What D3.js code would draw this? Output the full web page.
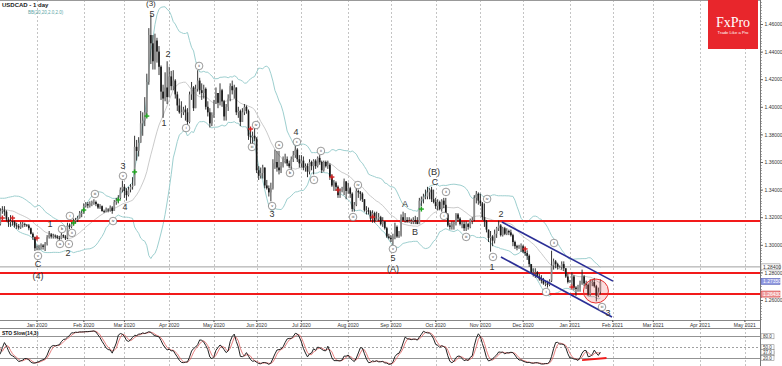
<!DOCTYPE html>
<html><head><meta charset="utf-8">
<script src="https://cdn.jsdelivr.net/npm/d3@7"></script>
<style>html,body{margin:0;padding:0;background:#fff;}svg{display:block;font-family:"Liberation Sans",Arial,sans-serif;}</style>
</head><body><svg id="c" width="782" height="366"></svg>
<script>
// ---------------- DATA ----------------
const firstDay = "2019-11-07";      // first daily bar (weekdays)
const anchorDay = "2020-01-02";     // bar index 0 used by annotations
// closes / highs / lows, one row per month (Nov-19 warmup, Dec-19 ... Jan-21)
const closes = [
 1.3170,1.3230,1.3220,1.3235,1.3250,1.3245,1.3225,1.3205,1.3250,1.3290,1.3275,1.3280,1.3275,1.3290,1.3285,1.3290,1.3285,1.3300,1.3320,1.3190,
 1.3150,1.3245,1.3250,1.3240,1.3185,1.3165,1.3170,1.3165,1.3140,1.3135,1.3125,1.3150,1.3150,1.3145,1.3140,1.3120,1.3080,1.3055,1.2975,1.2980,
 1.2990,1.2995,1.2985,1.3005,1.3055,1.3075,1.3060,1.3065,1.3060,1.3050,1.3045,1.3070,1.3060,1.3050,1.3140,1.3130,1.3150,1.3170,1.3180,1.3195,1.3230,1.3230,
 1.3280,1.3295,1.3285,1.3300,1.3310,1.3310,1.3295,1.3270,1.3280,1.3245,1.3240,1.3255,1.3250,1.3270,1.3245,1.3310,1.3320,1.3340,1.3400,1.3420,
 1.3390,1.3360,1.3400,1.3420,1.3430,1.3710,1.3680,1.3740,1.3880,1.3900,1.3960,1.4180,1.4520,1.4460,1.4330,1.4480,1.4400,1.4290,1.4110,1.4060,1.4140,1.4070,
 1.4220,1.4150,1.4190,1.4090,1.4010,1.3960,1.3960,1.3980,1.3960,1.3890,1.4090,1.4140,1.3990,1.4130,1.4190,1.4120,1.4100,1.4130,1.4000,1.3960,1.3880,1.3940,
 1.4030,1.4100,1.4030,1.4120,1.4040,1.3930,1.4000,1.4060,1.4150,1.4120,1.4140,1.3960,1.3970,1.3890,1.3960,1.4000,1.3970,1.3790,1.3780,1.3790,1.3770,
 1.3540,1.3500,1.3520,1.3560,1.3430,1.3410,1.3380,1.3410,1.3590,1.3600,1.3560,1.3540,1.3570,1.3620,1.3620,1.3590,1.3570,1.3620,1.3650,1.3690,1.3620,1.3590,
 1.3610,1.3560,1.3570,1.3530,1.3600,1.3570,1.3610,1.3570,1.3630,1.3600,1.3540,1.3600,1.3570,1.3580,1.3490,1.3430,1.3450,1.3420,1.3360,1.3400,1.3400,1.3460,1.3390,
 1.3410,1.3370,1.3260,1.3290,1.3390,1.3380,1.3370,1.3330,1.3250,1.3250,1.3240,1.3190,1.3230,1.3170,1.3190,1.3200,1.3150,1.3170,1.3120,1.3060,1.3050,
 1.3040,1.3060,1.3130,1.3060,1.3070,1.3200,1.3180,1.3180,1.3170,1.3170,1.3170,1.3180,1.3170,1.3150,1.3320,1.3330,1.3350,1.3350,1.3380,1.3400,1.3330,1.3310,
 1.3280,1.3310,1.3260,1.3320,1.3290,1.3220,1.3140,1.3130,1.3150,1.3160,1.3220,1.3190,1.3150,1.3150,1.3120,1.3150,1.3130,1.3180,1.3180,1.3340,1.3370,1.3320,
 1.3300,1.3200,1.3170,1.3110,1.3050,1.3060,1.3030,1.3080,1.3120,1.3140,1.3070,1.3120,1.3080,1.3100,1.3090,1.3070,1.3020,1.2990,1.2980,1.2990,1.2990,
 1.2950,1.2940,1.2920,1.2860,1.2800,1.2800,1.2800,1.2770,1.2750,1.2740,1.2720,1.2720,1.2710,1.2740,1.2850,1.2880,1.2860,1.2840,1.2840,1.2860,1.2830,1.2770,1.2730,
 1.2735,1.2770,1.2690,1.2680,1.2690,1.2720,1.2770,1.2720,1.2710,1.2640,1.2730,1.2730,1.2700,1.2630,1.2660,1.2735
];
const highs = [
 1.3195,1.3245,1.3245,1.3255,1.3270,1.3265,1.3250,1.3240,1.3260,1.3310,1.3300,1.3295,1.3300,1.3310,1.3300,1.3300,1.3305,1.3320,1.3325,1.3325,
 1.3200,1.3265,1.3280,1.3280,1.3250,1.3200,1.3215,1.3190,1.3175,1.3160,1.3150,1.3165,1.3165,1.3160,1.3150,1.3150,1.3125,1.3090,1.3060,1.2995,
 1.3000,1.3010,1.3005,1.3020,1.3070,1.3100,1.3085,1.3080,1.3075,1.3070,1.3065,1.3085,1.3075,1.3070,1.3160,1.3155,1.3165,1.3190,1.3195,1.3210,1.3245,1.3250,
 1.3300,1.3310,1.3310,1.3315,1.3320,1.3330,1.3320,1.3300,1.3295,1.3285,1.3255,1.3270,1.3265,1.3285,1.3280,1.3325,1.3340,1.3360,1.3415,1.3465,
 1.3440,1.3410,1.3420,1.3440,1.3490,1.3790,1.3760,1.3780,1.3970,1.3960,1.4070,1.4240,1.4570,1.4667,1.4520,1.4530,1.4500,1.4440,1.4300,1.4160,1.4250,1.4330,
 1.4290,1.4260,1.4265,1.4200,1.4110,1.4060,1.4040,1.4000,1.4010,1.3990,1.4110,1.4180,1.4150,1.4160,1.4265,1.4210,1.4170,1.4160,1.4140,1.4040,1.3990,1.3960,
 1.4050,1.4140,1.4100,1.4170,1.4130,1.4050,1.4020,1.4090,1.4170,1.4190,1.4160,1.4140,1.4000,1.3980,1.3990,1.4020,1.4010,1.3980,1.3850,1.3820,1.3850,
 1.3780,1.3570,1.3560,1.3580,1.3560,1.3470,1.3430,1.3450,1.3620,1.3690,1.3680,1.3680,1.3600,1.3640,1.3660,1.3640,1.3610,1.3640,1.3680,1.3715,1.3700,1.3650,
 1.3650,1.3640,1.3590,1.3590,1.3620,1.3610,1.3620,1.3620,1.3640,1.3650,1.3610,1.3610,1.3610,1.3610,1.3590,1.3510,1.3470,1.3460,1.3430,1.3410,1.3420,1.3480,1.3460,
 1.3450,1.3420,1.3380,1.3310,1.3410,1.3400,1.3390,1.3380,1.3330,1.3280,1.3270,1.3250,1.3250,1.3240,1.3240,1.3230,1.3210,1.3200,1.3170,1.3130,1.3080,
 1.3070,1.3080,1.3160,1.3140,1.3100,1.3220,1.3240,1.3230,1.3200,1.3200,1.3190,1.3200,1.3210,1.3200,1.3340,1.3350,1.3370,1.3400,1.3420,1.3410,1.3420,1.3400,
 1.3340,1.3330,1.3320,1.3330,1.3340,1.3340,1.3230,1.3160,1.3170,1.3170,1.3230,1.3230,1.3200,1.3170,1.3170,1.3170,1.3160,1.3190,1.3200,1.3360,1.3390,1.3380,
 1.3370,1.3310,1.3300,1.3180,1.3110,1.3100,1.3070,1.3110,1.3130,1.3175,1.3150,1.3130,1.3130,1.3120,1.3110,1.3110,1.3080,1.3030,1.3000,1.3000,1.3010,
 1.3000,1.2980,1.2960,1.2930,1.2860,1.2830,1.2830,1.2810,1.2790,1.2780,1.2760,1.2740,1.2740,1.2750,1.2957,1.2900,1.2890,1.2870,1.2850,1.2880,1.2880,1.2830,1.2790,
 1.2745,1.2800,1.2780,1.2700,1.2710,1.2740,1.2820,1.2780,1.2740,1.2720,1.2750,1.2750,1.2760,1.2710,1.2690,1.2750
];
const lows = [
 1.3140,1.3160,1.3200,1.3200,1.3220,1.3225,1.3205,1.3190,1.3195,1.3245,1.3255,1.3260,1.3260,1.3265,1.3270,1.3275,1.3275,1.3280,1.3285,1.3180,
 1.3110,1.3140,1.3225,1.3210,1.3170,1.3130,1.3130,1.3140,1.3125,1.3115,1.3110,1.3115,1.3125,1.3130,1.3130,1.3105,1.3075,1.3035,1.2955,1.2960,
 1.2960,1.2965,1.2965,1.2955,1.2995,1.3045,1.3045,1.3045,1.3045,1.3040,1.3030,1.3040,1.3050,1.3035,1.3040,1.3115,1.3120,1.3140,1.3155,1.3165,1.3190,1.3200,
 1.3225,1.3270,1.3265,1.3270,1.3280,1.3290,1.3280,1.3260,1.3260,1.3240,1.3230,1.3235,1.3235,1.3240,1.3225,1.3250,1.3290,1.3300,1.3330,1.3380,
 1.3340,1.3320,1.3350,1.3380,1.3400,1.3430,1.3610,1.3640,1.3740,1.3790,1.3860,1.3940,1.4160,1.4310,1.4270,1.4270,1.4320,1.4230,1.4050,1.3920,1.4040,1.4020,
 1.4070,1.4120,1.4120,1.4060,1.3970,1.3950,1.3920,1.3940,1.3900,1.3850,1.3880,1.4050,1.3970,1.3990,1.4110,1.4090,1.4050,1.4060,1.3980,1.3930,1.3850,1.3860,
 1.3920,1.4020,1.3990,1.4010,1.4000,1.3900,1.3900,1.3970,1.4040,1.4090,1.4060,1.3940,1.3920,1.3860,1.3890,1.3940,1.3950,1.3760,1.3720,1.3730,1.3750,
 1.3520,1.3470,1.3480,1.3480,1.3410,1.3400,1.3350,1.3315,1.3400,1.3550,1.3530,1.3510,1.3520,1.3560,1.3590,1.3570,1.3555,1.3530,1.3600,1.3630,1.3600,1.3560,
 1.3560,1.3540,1.3530,1.3490,1.3510,1.3540,1.3510,1.3550,1.3560,1.3580,1.3520,1.3530,1.3560,1.3550,1.3470,1.3420,1.3390,1.3390,1.3340,1.3340,1.3380,1.3360,1.3330,
 1.3370,1.3340,1.3240,1.3240,1.3280,1.3340,1.3320,1.3310,1.3240,1.3220,1.3220,1.3170,1.3160,1.3160,1.3170,1.3170,1.3140,1.3130,1.3110,1.3050,1.3040,
 1.3020,1.3000,1.3040,1.3050,1.3050,1.3060,1.3170,1.3160,1.3160,1.3160,1.3150,1.3150,1.3150,1.3150,1.3150,1.3280,1.3300,1.3330,1.3330,1.3330,1.3310,1.3300,
 1.3260,1.3250,1.3250,1.3240,1.3265,1.3210,1.3130,1.3110,1.3110,1.3110,1.3140,1.3170,1.3140,1.3120,1.3100,1.3100,1.3110,1.3120,1.3150,1.3170,1.3300,1.3290,
 1.3280,1.3180,1.3130,1.3090,1.3020,1.2950,1.2990,1.3010,1.3050,1.3100,1.3060,1.3060,1.3070,1.3070,1.3070,1.3060,1.2990,1.2970,1.2960,1.2970,1.2950,
 1.2940,1.2920,1.2890,1.2840,1.2790,1.2770,1.2760,1.2760,1.2740,1.2720,1.2710,1.2700,1.2690,1.2700,1.2730,1.2820,1.2830,1.2820,1.2830,1.2820,1.2810,1.2760,1.2720,
 1.2725,1.2710,1.2670,1.2630,1.2660,1.2660,1.2710,1.2700,1.2680,1.2630,1.2630,1.2700,1.2690,1.2590,1.2620,1.2640
];
const monthLabels = ["Jan 2020","Feb 2020","Mar 2020","Apr 2020","May 2020","Jun 2020","Jul 2020","Aug 2020","Sep 2020","Oct 2020","Nov 2020","Dec 2020","Jan 2021","Feb 2021","Mar 2021","Apr 2021","May 2021"];
const priceTicks = [1.26,1.28,1.30,1.32,1.34,1.36,1.38,1.40,1.42,1.44,1.46];
const redLevels = [1.3172, 1.2796, 1.2643];
const grayLevels = [1.2840];
const stoLevels = [80, 50, 20];
// annotations: [bar index from 2020-01-02, price, text]
const waveLabels = [
 [55,1.4749,"(3)"],[55.5,1.4672,"5"],[63.4,1.4383,"2"],[61.5,1.3883,"1"],
 [5.4,1.3151,"1"],[14.3,1.2941,"2"],[-0.5,1.2861,"C"],[-0.5,1.2774,"(4)"],
 [41.3,1.3571,"3"],[42.3,1.3274,"4"],[114.6,1.3223,"3"],[126.4,1.3817,"4"],
 [180,1.3296,"A"],[184.9,1.3093,"B"],[174,1.2904,"5"],[174,1.2825,"(A)"],
 [194.2,1.3528,"(B)"],[194.7,1.3455,"C"],[227.1,1.3223,"2"],[222.7,1.2839,"1"],[279.7,1.2506,"3"]
];
const circledLabels = [
 [-0.5,1.2919,"v"],[10.3,1.3006,"a"],[11.3,1.3114,"b"],[14.7,1.3006,"c"],[15.2,1.3209,"i"],[16.2,1.3086,"ii"],
 [27.5,1.3368,"iii"],[36.4,1.3172,"iv"],[41.3,1.3499,"v"],
 [72.3,1.3846,"i"],[78.7,1.4296,"ii"],[104.7,1.3709,"iii"],[106.7,1.3868,"iv"],[114.6,1.3281,"v"],
 [118,1.3723,"a"],[123.4,1.3520,"b"],[126.8,1.3745,"c"],
 [135.2,1.3470,"i"],[138.6,1.3680,"ii"],[154.4,1.3201,"iii"],[156.8,1.3433,"iv"],[174,1.2970,"v"],
 [199.1,1.3209,"i"],[200.1,1.3383,"ii"],[210,1.3057,"iii"],[220.3,1.3332,"iv"],[223.2,1.2912,"v"],
 [249.3,1.2658,"i"],[253.2,1.3013,"ii"],[276.8,1.2549,"iii"]
];
const greenCrosses = [[17,1.3158],[22,1.3252],[39,1.3325],[47,1.3528],[53,1.3933],[188,1.3259]];
const redCrosses = [[-18,1.3194],[-13,1.3194],[-1,1.3049],[104,1.3839],[144,1.3491],[147,1.3397],[164,1.3201],[239,1.2970],[262,1.2694]];
const channelUpper = [[227.6,1.3165],[282.2,1.2737]];
const channelLower = [[227.1,1.2912],[281.7,1.2477]];
const focusPoint = [273.8, 1.2665];
const stoTrend = [[267,15],[279,20.5]];

// ---------------- SETUP ----------------
const svg = d3.select("#c");
const W = 760, mainBottom = 320;
const parse = d3.timeParse("%Y-%m-%d");
const days = [];
for (let d = parse(firstDay); d <= parse("2021-05-07"); d = d3.timeDay.offset(d, 1)) {
  if (d.getDay() !== 0 && d.getDay() !== 6) days.push(d);
}
const fmtDay = d3.timeFormat("%Y-%m-%d"), fmtMon = d3.timeFormat("%b %Y");
const k0 = days.findIndex(d => fmtDay(d) === anchorDay);
const kMay = days.findIndex(d => fmtMon(d) === "May 2021");
const x = d3.scaleLinear().domain([k0, kMay]).range([39, 744.8]);
const xi = i => x(i + k0);
const y = d3.scaleLinear().domain([1.26, 1.46]).range([300, 24]);
const ys = d3.scaleLinear().domain([0, 100]).range([365.5, 329]);

const bars = closes.map((c, k) => ({k, c, h: highs[k], l: lows[k], o: k > 0 ? closes[k - 1] : c}));

// Bollinger 20,2
const bb = [];
bars.forEach((b, k) => {
  if (k < 19) return;
  const win = closes.slice(k - 19, k + 1);
  const m = d3.mean(win);
  const sd = Math.sqrt(d3.mean(win, v => (v - m) * (v - m)));
  bb.push({k, m, u: m + 2 * sd, d: m - 2 * sd});
});
// Stochastic slow 14,3
const num = [], den = [];
bars.forEach((b, k) => {
  if (k < 13) { num.push(null); den.push(null); return; }
  const ll = d3.min(lows.slice(k - 13, k + 1)), hh = d3.max(highs.slice(k - 13, k + 1));
  num.push(b.c - ll); den.push(hh - ll);
});
const sto = [];
for (let k = 15; k < bars.length; k++) {
  const n = num[k] + num[k - 1] + num[k - 2], dd = den[k] + den[k - 1] + den[k - 2];
  sto.push({k, K: dd > 0 ? 100 * n / dd : 50});
}
sto.forEach((s, j) => { if (j >= 2) s.D = (s.K + sto[j - 1].K + sto[j - 2].K) / 3; });

const defs = svg.append("defs");
defs.append("clipPath").attr("id", "cm").append("rect").attr("x", 0).attr("y", 0).attr("width", W).attr("height", mainBottom);
defs.append("clipPath").attr("id", "cs").append("rect").attr("x", 0).attr("y", 328).attr("width", W).attr("height", 38);

// month grid
const monthK = monthLabels.map(lbl => days.findIndex(d => fmtMon(d) === lbl));
svg.append("g").selectAll("line").data(monthK).join("line")
  .attr("x1", d => Math.round(x(d)) + 0.5).attr("x2", d => Math.round(x(d)) + 0.5)
  .attr("y1", 0).attr("y2", 366).attr("stroke", "#c4c4c4").attr("stroke-dasharray", "2,2");

const gm = svg.append("g").attr("clip-path", "url(#cm)");
// Bollinger lines
const lineB = key => d3.line().x(d => x(d.k)).y(d => y(d[key]));
gm.append("path").datum(bb).attr("d", lineB("m")).attr("fill", "none").attr("stroke", "#bdbdbd").attr("stroke-width", 0.8);
gm.append("path").datum(bb).attr("d", lineB("u")).attr("fill", "none").attr("stroke", "#9dcfcf").attr("stroke-width", 1);
gm.append("path").datum(bb).attr("d", lineB("d")).attr("fill", "none").attr("stroke", "#9dcfcf").attr("stroke-width", 1);

// horizontal levels
gm.selectAll(".gl").data(grayLevels).join("line").attr("x1", 0).attr("x2", W)
  .attr("y1", d => y(d)).attr("y2", d => y(d)).attr("stroke", "#a0a0a0").attr("stroke-width", 1);
gm.selectAll(".rl").data(redLevels).join("line").attr("x1", 0).attr("x2", W)
  .attr("y1", d => y(d)).attr("y2", d => y(d)).attr("stroke", "#f21a1a").attr("stroke-width", 2);

// candles
const cg = gm.append("g");
cg.selectAll("line").data(bars).join("line")
  .attr("x1", d => x(d.k)).attr("x2", d => x(d.k))
  .attr("y1", d => y(Math.max(d.h, d.o, d.c))).attr("y2", d => y(Math.min(d.l, d.o, d.c)))
  .attr("stroke", "#1e1e1e").attr("stroke-width", 0.9);
cg.selectAll("rect").data(bars).join("rect")
  .attr("x", d => x(d.k) - 0.85).attr("width", 1.7)
  .attr("y", d => y(Math.max(d.o, d.c))).attr("height", d => Math.max(0.8, Math.abs(y(d.o) - y(d.c))))
  .attr("fill", d => d.c >= d.o ? "#8c8c8c" : "#1a1a1a");

// crosses
const cross = (data, col) => {
  const g = gm.append("g").attr("stroke", col).attr("stroke-width", 1.4);
  data.forEach(([i, p]) => {
    g.append("line").attr("x1", xi(i) - 2.5).attr("x2", xi(i) + 2.5).attr("y1", y(p)).attr("y2", y(p));
    g.append("line").attr("x1", xi(i)).attr("x2", xi(i)).attr("y1", y(p) - 2.5).attr("y2", y(p) + 2.5);
  });
};
cross(greenCrosses, "#1fa51f");
cross(redCrosses, "#d42020");

// channel
[channelUpper, channelLower].forEach(seg => {
  gm.append("line").attr("x1", xi(seg[0][0])).attr("y1", y(seg[0][1])).attr("x2", xi(seg[1][0])).attr("y2", y(seg[1][1]))
    .attr("stroke", "#2b2f96").attr("stroke-width", 1.6);
});
// focus ellipse
gm.append("ellipse").attr("cx", xi(focusPoint[0])).attr("cy", y(focusPoint[1])).attr("rx", 12.5).attr("ry", 12)
  .attr("fill", "rgba(240,80,80,0.2)").attr("stroke", "#e83030").attr("stroke-width", 1);

// wave labels
gm.selectAll(".wl").data(waveLabels).join("text")
  .attr("x", d => xi(d[0])).attr("y", d => y(d[1])).attr("dy", "0.36em")
  .attr("text-anchor", "middle").attr("font-size", d => d[2] === "(3)" ? 8 : 9).attr("fill", "#333").text(d => d[2]);
const cl = gm.selectAll(".cl").data(circledLabels).join("g")
  .attr("transform", d => `translate(${xi(d[0])},${y(d[1])})`);
cl.append("circle").attr("r", 3.8).attr("fill", "#fff").attr("stroke", "#555").attr("stroke-width", 0.6);
cl.append("text").attr("text-anchor", "middle").attr("dy", "0.35em").attr("font-size", 3.8).attr("fill", "#333").text(d => d[2]);

// frames
svg.append("line").attr("x1", 0).attr("x2", W).attr("y1", 0.5).attr("y2", 0.5).attr("stroke", "#999");
svg.append("line").attr("x1", 0).attr("x2", W).attr("y1", mainBottom + 0.5).attr("y2", mainBottom + 0.5).attr("stroke", "#888");
svg.append("line").attr("x1", 0).attr("x2", W).attr("y1", 328.5).attr("y2", 328.5).attr("stroke", "#888");
svg.append("line").attr("x1", W + 0.5).attr("x2", W + 0.5).attr("y1", 0).attr("y2", 366).attr("stroke", "#777");

// price axis
const minor = d3.range(1.246, 1.478, 0.002);
svg.append("g").selectAll("line").data(minor).join("line")
  .attr("x1", W).attr("x2", W + 2).attr("y1", d => Math.round(y(d)) + 0.5).attr("y2", d => Math.round(y(d)) + 0.5)
  .attr("stroke", "#777").attr("stroke-width", 0.6);
const ay = d3.axisRight(y).tickValues(priceTicks).tickFormat(d3.format(".5f")).tickSize(3).tickPadding(1.5);
const gA = svg.append("g").attr("transform", `translate(${W},0)`).call(ay);
gA.select(".domain").remove();
gA.selectAll("text").attr("font-size", 5).attr("fill", "#333").attr("font-family", "Liberation Sans, Arial");
gA.selectAll("line").attr("stroke", "#666");

// price boxes
const box = (val, yy, fill, stroke, txt) => {
  const g = svg.append("g").attr("transform", `translate(${W + 1},${yy})`);
  g.append("rect").attr("x", 0).attr("y", -3).attr("width", 19).attr("height", 6).attr("fill", fill).attr("stroke", stroke).attr("stroke-width", 0.6);
  g.append("text").attr("x", 2).attr("y", 0).attr("dy", "0.35em").attr("font-size", 5).attr("fill", txt).text(val);
};
box(d3.format(".5f")(grayLevels[0]), y(grayLevels[0]), "#fff", "#888", "#333");
box(d3.format(".5f")(closes[closes.length - 1]), y(closes[closes.length - 1]), "#8f98df", "#5a64b8", "#fff");
box(d3.format(".5f")(redLevels[2]), y(redLevels[2]), "#f0a0a0", "#d03030", "#fff");

// date labels
svg.append("g").selectAll("text").data(monthLabels).join("text")
  .attr("x", (d, j) => x(monthK[j])).attr("y", 326.5).attr("text-anchor", "middle")
  .attr("font-size", 5).attr("fill", "#333").text(d => d);
svg.append("g").selectAll("line").data(monthK).join("line")
  .attr("x1", d => x(d)).attr("x2", d => x(d)).attr("y1", mainBottom).attr("y2", mainBottom + 2).attr("stroke", "#666");

// STO panel
const gs = svg.append("g").attr("clip-path", "url(#cs)");
gs.selectAll("line").data(stoLevels).join("line").attr("x1", 0).attr("x2", W)
  .attr("y1", d => Math.round(ys(d)) + 0.5).attr("y2", d => Math.round(ys(d)) + 0.5)
  .attr("stroke", d => d === 50 ? "#888" : "#777").attr("stroke-dasharray", d => d === 50 ? "2,2" : null).attr("stroke-width", 0.8);
gs.append("path").datum(sto.filter(s => s.D !== undefined)).attr("d", d3.line().x(d => x(d.k)).y(d => ys(d.D)))
  .attr("fill", "none").attr("stroke", "#e06060").attr("stroke-width", 0.8);
gs.append("path").datum(sto).attr("d", d3.line().x(d => x(d.k)).y(d => ys(d.K)))
  .attr("fill", "none").attr("stroke", "#222").attr("stroke-width", 1);
gs.append("line").attr("x1", xi(stoTrend[0][0])).attr("y1", ys(stoTrend[0][1])).attr("x2", xi(stoTrend[1][0])).attr("y2", ys(stoTrend[1][1]))
  .attr("stroke", "#f01a1a").attr("stroke-width", 1.8);
svg.append("text").attr("x", 2).attr("y", 334.5).attr("font-size", 5).attr("font-weight", "bold").attr("fill", "#111").text("STO Slow(14,3)");
const lastSto = sto[sto.length - 1];
const stoBoxes = [80, 50, lastSto.D, lastSto.K, 20];
stoBoxes.forEach(v => {
  const g = svg.append("g").attr("transform", `translate(${W + 1},${ys(v)})`);
  g.append("rect").attr("x", 0).attr("y", -2.5).attr("width", 13).attr("height", 5).attr("fill", "#fff").attr("stroke", "#777").attr("stroke-width", 0.5);
  g.append("text").attr("x", 2).attr("dy", "0.35em").attr("font-size", 4.5).attr("fill", "#333").text(d3.format(".1f")(v));
});

// titles
svg.append("text").attr("x", 2).attr("y", 7).attr("font-size", 6).attr("font-weight", "bold").attr("fill", "#222").text("USDCAD - 1 day");
svg.append("text").attr("x", 28).attr("y", 14).attr("font-size", 4.5).attr("fill", "#5aa5a5").text("BB(20,20,2.0,2.0)");

// logo
const lg = svg.append("g");
lg.append("rect").attr("x", 708).attr("y", 0).attr("width", 50).attr("height", 49).attr("fill", "#e8262c");
lg.append("text").attr("x", 733).attr("y", 27).attr("text-anchor", "middle").attr("font-family", "Liberation Serif, DejaVu Serif, serif")
  .attr("font-size", 14).attr("fill", "#fff").text("FxPro");
lg.append("text").attr("x", 733).attr("y", 34).attr("text-anchor", "middle").attr("font-size", 4.2).attr("fill", "#fff").text("Trade Like a Pro");
</script></body></html>
